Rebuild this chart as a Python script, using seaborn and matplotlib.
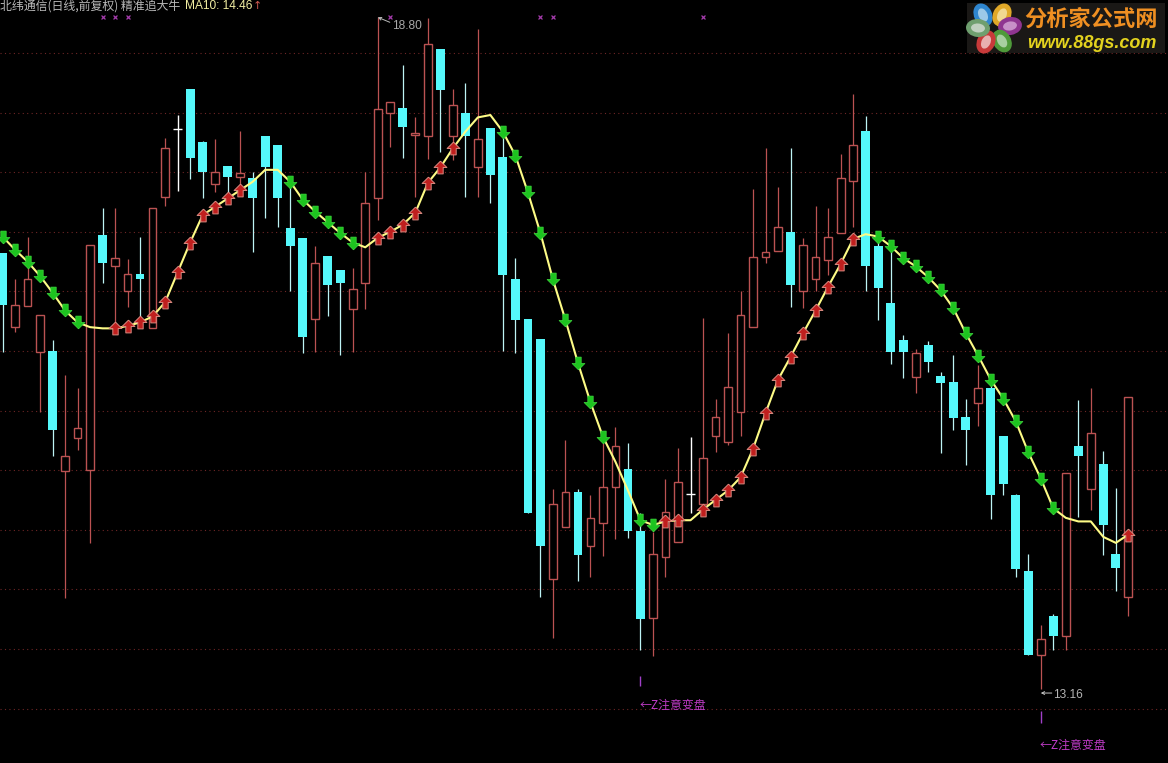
import matplotlib
matplotlib.use('Agg')
import matplotlib.pyplot as plt
from matplotlib.markers import MarkerStyle
from matplotlib.patches import Ellipse, Rectangle
from matplotlib.path import Path
import seaborn as sns
import pandas as pd

# daily bars
opens = [16.82, 16.20, 16.38, 15.99, 16.00, 14.99, 15.27, 15.00, 16.97, 16.71,
         16.50, 16.65, 16.19, 17.29, 17.86, 18.20, 17.75, 17.40, 17.55, 17.46,
         17.45, 17.80, 17.73, 17.03, 16.95, 16.27, 16.80, 16.68, 16.35, 16.57,
         17.28, 18.00, 18.04, 17.81, 17.80, 18.53, 17.80, 18.00, 17.54, 17.87,
         17.63, 16.60, 16.27, 16.10, 14.09, 14.52, 14.82, 14.36, 14.56, 14.86,
         15.01, 14.49, 13.76, 14.27, 14.40, 14.80, 14.72, 15.29, 15.24, 15.49,
         16.20, 16.79, 16.84, 17.00, 16.50, 16.60, 16.76, 16.99, 17.43, 17.85,
         16.88, 16.40, 16.09, 15.78, 16.05, 15.79, 15.74, 15.45, 15.56, 15.69,
         15.29, 14.79, 14.15, 13.45, 13.78, 13.61, 15.20, 14.84, 15.05, 14.30,
         13.94]
closes = [16.39, 16.39, 16.60, 16.30, 15.34, 15.12, 15.35, 16.89, 16.74, 16.78,
          16.65, 16.60, 17.20, 17.70, 17.86, 17.62, 17.50, 17.50, 17.46, 17.49,
          17.28, 17.54, 17.28, 16.88, 16.12, 16.74, 16.55, 16.57, 16.52, 17.24,
          18.03, 18.09, 17.88, 17.83, 18.58, 18.19, 18.06, 17.80, 17.78, 17.48,
          16.64, 16.26, 14.64, 14.36, 14.72, 14.82, 14.29, 14.60, 14.86, 15.20,
          14.49, 13.75, 14.30, 14.65, 14.90, 14.80, 15.10, 15.45, 15.70, 16.30,
          16.79, 16.83, 17.04, 16.55, 16.89, 16.79, 16.96, 17.45, 17.73, 16.71,
          16.53, 15.99, 15.99, 15.98, 15.91, 15.73, 15.44, 15.34, 15.69, 14.79,
          14.88, 14.17, 13.45, 13.58, 13.61, 14.98, 15.12, 15.31, 14.54, 14.18,
          15.61]
highs = [16.82, 16.60, 16.96, 16.30, 16.09, 15.80, 15.69, 16.89, 17.20, 17.20,
         16.77, 16.96, 17.20, 17.79, 17.98, 18.20, 17.76, 17.78, 17.55, 17.85,
         17.50, 17.80, 17.73, 17.39, 16.95, 16.88, 16.80, 16.68, 16.70, 17.50,
         18.80, 18.09, 18.40, 17.96, 18.79, 18.53, 18.20, 18.25, 18.70, 17.87,
         17.84, 16.78, 16.27, 16.10, 14.84, 15.25, 14.84, 14.79, 15.23, 15.36,
         15.23, 14.64, 14.48, 14.93, 15.19, 15.28, 16.28, 15.60, 16.15, 16.50,
         17.36, 17.70, 17.38, 17.70, 16.95, 17.22, 17.20, 17.65, 18.16, 17.97,
         16.93, 16.87, 16.13, 16.02, 16.08, 15.82, 15.97, 15.60, 15.88, 15.80,
         15.29, 14.80, 14.30, 13.70, 13.79, 14.98, 15.59, 15.69, 15.16, 14.85,
         15.61]
lows = [15.99, 16.16, 16.38, 15.49, 15.12, 13.93, 15.17, 14.39, 16.57, 16.20,
        16.37, 16.29, 16.19, 17.22, 17.34, 17.44, 17.28, 17.33, 17.27, 17.35,
        16.83, 17.12, 17.04, 16.50, 15.98, 15.99, 16.29, 15.97, 15.99, 16.35,
        17.10, 17.71, 17.62, 17.29, 17.61, 17.67, 17.60, 17.29, 17.29, 17.24,
        16.00, 15.98, 14.64, 13.94, 13.59, 14.52, 14.07, 14.10, 14.28, 14.42,
        14.43, 13.49, 13.44, 14.10, 14.40, 14.64, 14.67, 15.15, 15.21, 15.29,
        16.20, 16.74, 16.84, 16.37, 16.36, 16.50, 16.64, 16.99, 17.04, 16.50,
        16.26, 15.89, 15.77, 15.65, 15.82, 15.14, 15.34, 15.04, 15.37, 14.59,
        14.79, 14.10, 13.45, 13.16, 13.49, 13.49, 14.61, 14.67, 14.29, 13.99,
        13.78]
ma10 = [16.96, 16.85, 16.75, 16.63, 16.49, 16.34, 16.24, 16.20, 16.19, 16.19,
        16.21, 16.24, 16.29, 16.41, 16.66, 16.91, 17.14, 17.21, 17.28, 17.35,
        17.42, 17.52, 17.52, 17.42, 17.27, 17.17, 17.08, 16.99, 16.91, 16.87,
        16.95, 17.00, 17.06, 17.16, 17.41, 17.54, 17.70, 17.84, 17.96, 17.98,
        17.84, 17.64, 17.33, 16.99, 16.60, 16.26, 15.90, 15.57, 15.28, 15.07,
        14.83, 14.58, 14.54, 14.57, 14.58, 14.58, 14.67, 14.75, 14.83, 14.94,
        15.18, 15.48, 15.76, 15.95, 16.15, 16.34, 16.54, 16.73, 16.94, 16.98,
        16.96, 16.88, 16.78, 16.71, 16.62, 16.51, 16.36, 16.15, 15.96, 15.76,
        15.60, 15.41, 15.15, 14.93, 14.68, 14.60, 14.57, 14.57, 14.44, 14.39,
        14.46]

buy_days = [9, 10, 11, 12, 13, 14, 15, 16, 17, 18, 19,
            30, 31, 32, 33, 34, 35, 36,
            53, 54, 56, 57, 58, 59, 60, 61, 62, 63, 64, 65, 66, 67, 68, 90]
sell_days = [0, 1, 2, 3, 4, 5, 6,
             23, 24, 25, 26, 27, 28,
             40, 41, 42, 43, 44, 45, 46, 47, 48, 51, 52,
             70, 71, 72, 73, 74, 75, 76, 77, 78, 79, 80, 81, 82, 83, 84]
cross_days = [8, 9, 10, 31, 43, 44, 56]
grid_prices = [13.0, 13.5, 14.0, 14.5, 15.0, 15.5, 16.0, 16.5, 17.0, 17.5, 18.0, 18.5]
turn_days = [51, 83]
high_day, high_price = 30, 18.80
low_day, low_price = 83, 13.16

RED = '#bb5252'
CYAN = '#55f8fb'
BG = '#000000'

df = pd.DataFrame({'open': opens, 'close': closes, 'high': highs, 'low': lows, 'ma10': ma10})
df['day'] = df.index
df['top'] = df[['open', 'close']].max(axis=1)
df['bottom'] = df[['open', 'close']].min(axis=1)

sns.set_theme(style='dark', rc={'figure.facecolor': BG, 'axes.facecolor': BG})
plt.rcParams['font.family'] = ['Noto Sans CJK SC', 'DejaVu Sans']

fig = plt.figure(figsize=(11.68, 7.63), dpi=100)
ax = fig.add_axes([0, 0, 1, 1])
ax.set_xlim(-0.2, 93.17)
ax.set_ylim(12.543, 18.945)
ax.axis('off')

ax.hlines(grid_prices, -0.2, 93.17, colors='#6e2626', linewidth=0.8,
          linestyles=(0, (1, 3)), zorder=1)

up = df[df['close'] > df['open']]
down = df[df['close'] < df['open']]
flat = df[df['close'] == df['open']]

# wicks stop at the body so the red candles stay hollow
ax.vlines(up['day'], up['top'], up['high'], colors=RED, linewidth=0.9, zorder=2)
ax.vlines(up['day'], up['low'], up['bottom'], colors=RED, linewidth=0.9, zorder=2)
ax.bar(up['day'], up['top'] - up['bottom'], bottom=up['bottom'], width=0.62,
       facecolor=BG, edgecolor=RED, linewidth=1.0, zorder=3)
ax.vlines(down['day'], down['low'], down['high'], colors='#bdf3f5', linewidth=0.9, zorder=2)
ax.bar(down['day'], down['top'] - down['bottom'], bottom=down['bottom'], width=0.70,
       color=CYAN, linewidth=0, zorder=3)
ax.vlines(flat['day'], flat['low'], flat['high'], colors='white', linewidth=1.0, zorder=3)
ax.hlines(flat['close'], flat['day'] - 0.35, flat['day'] + 0.35, colors='white', linewidth=1.0, zorder=3)

sns.lineplot(data=df, x='day', y='ma10', color='#fdfb86', linewidth=1.5, ax=ax, zorder=4, legend=False)

arrow_up = Path([(0, 1), (1, 0), (0.42, 0), (0.42, -1), (-0.42, -1), (-0.42, 0), (-1, 0), (0, 1)])
arrow_down = Path([(0, -1), (1, 0), (0.42, 0), (0.42, 1), (-0.42, 1), (-0.42, 0), (-1, 0), (0, -1)])

sns.scatterplot(data=df.loc[buy_days], x='day', y='ma10', marker=MarkerStyle(arrow_up), s=85,
                color='#c01f1e', edgecolor='#d98a80', linewidth=0.7, ax=ax, zorder=5, legend=False)
sns.scatterplot(data=df.loc[sell_days], x='day', y='ma10', marker=MarkerStyle(arrow_down), s=85,
                color='#1dc41f', edgecolor='#3fdc3f', linewidth=0.5, ax=ax, zorder=5, legend=False)

ax.scatter(cross_days, [high_price] * len(cross_days), marker='x', s=8, color='#a53cad', linewidth=0.9, zorder=5)
ax.set_xlabel('')
ax.set_ylabel('')

# header
fig.text(0, 1 - 6 / 763, '北纬通信(日线,前复权) 精准追大牛', color='#b9b9b9', fontsize=8.6, va='center', ha='left')
fig.text(185 / 1168, 1 - 6 / 763, 'MA10: 14.46', color='#f1eda2', fontsize=8.6, va='center', ha='left',
         family=['Liberation Sans', 'DejaVu Sans'])
fig.text(253 / 1168, 1 - 6 / 763, '↑', color='#cf5a50', fontsize=8, va='center', ha='left',
         family=['DejaVu Sans'])

# extreme labels
ax.annotate('18.80', (high_day, high_price), xytext=(14, -9), textcoords='offset pixels', color='#a8a8a8',
            fontsize=8.6, va='center', family=['Liberation Sans', 'DejaVu Sans'])
ax.annotate('', (high_day, high_price), xytext=(12, -5), textcoords='offset pixels',
            arrowprops=dict(arrowstyle='->', color='#bbbbbb', lw=0.7, mutation_scale=5, shrinkA=0, shrinkB=0))
ax.annotate('13.16', (low_day, low_price), xytext=(12, -6), textcoords='offset pixels', color='#b5b5b5',
            fontsize=8.6, va='center', family=['Liberation Sans', 'DejaVu Sans'])
ax.annotate('', (low_day, low_price - 0.03), xytext=(11, 0), textcoords='offset pixels',
            arrowprops=dict(arrowstyle='->', color='#c8c8c8', lw=0.7, mutation_scale=5, shrinkA=0, shrinkB=0))

# turning point notes under the two lows
for d, tick_low, tick_high, note_price in zip(turn_days, [13.19, 12.88], [13.27, 12.98], [13.03, 12.69]):
    ax.vlines(d, tick_low, tick_high, colors='#a040c8', linewidth=1.0, zorder=5)
    ax.text(d - 0.08, note_price, '←Z注意变盘', color='#c03cc8', fontsize=8.6,
            va='center', ha='left', family=['Noto Sans CJK SC', 'DejaVu Sans'])

# logo in the top right corner
logo = fig.add_axes([960 / 1168, 1 - 60 / 763, 208 / 1168, 60 / 763])
logo.set_xlim(960, 1168)
logo.set_ylim(60, 0)
logo.axis('off')
logo.add_patch(Rectangle((967, 3), 198, 50, facecolor='#1a1816', edgecolor='none'))
petals = [(983, 15, 65, '#2f86cf', '#9cc8e8'), (1002, 15, 115, '#e0a828', '#f0d890'),
          (1010, 26, 170, '#8f3590', '#c890c8'), (1002, 41, 60, '#4f9a3a', '#a8cfa0'),
          (986, 42, 115, '#c83a3a', '#e8b0b0'), (978, 28, 5, '#6f9f6f', '#c0d0c0')]
for px, py, ang, col, light in petals:
    logo.add_patch(Ellipse((px, py), 24, 18, angle=ang, facecolor=col, edgecolor='none'))
    logo.add_patch(Ellipse((px, py), 14, 9, angle=ang, facecolor=light, edgecolor='none'))
logo.add_patch(Ellipse((994, 28), 7, 7, facecolor='#141414', edgecolor='none'))
logo.text(1091.5, 19, '分析家公式网', color='#ef8f22', fontsize=16, fontweight='bold', ha='center', va='center',
          family=['Noto Sans CJK SC', 'DejaVu Sans'])
logo.text(1092, 44, 'www.88gs.com', color='#e3d21e', fontsize=13, fontweight='bold', style='italic',
          ha='center', va='center', family=['Liberation Sans', 'DejaVu Sans'])

fig.savefig('out.png', dpi=100, facecolor=BG)
